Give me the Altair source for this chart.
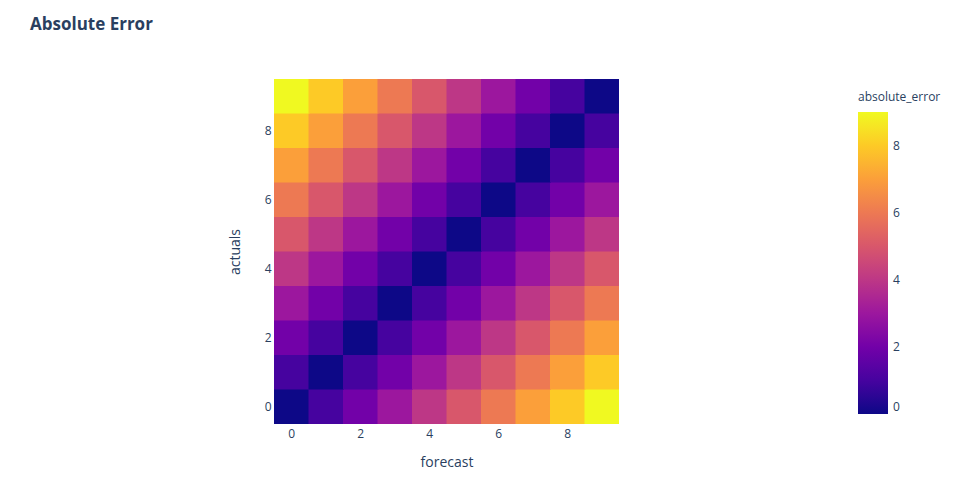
import altair as alt
import pandas as pd

forecast = [0, 1, 2, 3, 4, 5, 6, 7, 8, 9]
actuals = [0, 1, 2, 3, 4, 5, 6, 7, 8, 9]
# rows: actuals 0..9, columns: forecast 0..9
absolute_error = [
    [0, 1, 2, 3, 4, 5, 6, 7, 8, 9],
    [1, 0, 1, 2, 3, 4, 5, 6, 7, 8],
    [2, 1, 0, 1, 2, 3, 4, 5, 6, 7],
    [3, 2, 1, 0, 1, 2, 3, 4, 5, 6],
    [4, 3, 2, 1, 0, 1, 2, 3, 4, 5],
    [5, 4, 3, 2, 1, 0, 1, 2, 3, 4],
    [6, 5, 4, 3, 2, 1, 0, 1, 2, 3],
    [7, 6, 5, 4, 3, 2, 1, 0, 1, 2],
    [8, 7, 6, 5, 4, 3, 2, 1, 0, 1],
    [9, 8, 7, 6, 5, 4, 3, 2, 1, 0],
]
tick_values = [0, 2, 4, 6, 8]
axis_extent = [-0.5, 9.5]
plasma = ["#0d0887", "#46039f", "#7201a8", "#9c179e", "#bd3786",
          "#d8576b", "#ed7953", "#fb9f3a", "#fdca26", "#f0f921"]
color_domain = [0, 1, 2, 3, 4, 5, 6, 7, 8, 9]

rows = []
for i, a in enumerate(actuals):
    for j, f in enumerate(forecast):
        rows.append({"forecast": f, "actuals": a, "absolute_error": absolute_error[i][j]})
df = pd.DataFrame(rows)

FONT = "Open Sans"
TXT = "#2a3f5f"

chart = alt.Chart(df).transform_calculate(
    f0="datum.forecast - 0.5", f1="datum.forecast + 0.5",
    a0="datum.actuals - 0.5", a1="datum.actuals + 0.5",
).mark_rect(strokeWidth=0, clip=True, x2Offset=1, y2Offset=-1).encode(
    x=alt.X("f0:Q", title="forecast",
            scale=alt.Scale(domain=axis_extent, nice=False, zero=False),
            axis=alt.Axis(values=tick_values, labelAngle=0, ticks=False, domain=False,
                          grid=False, labelPadding=4, titlePadding=16, labelFontSize=12,
                          titleFontSize=14, titleFontWeight="normal", labelColor=TXT,
                          titleColor=TXT, labelFont=FONT, titleFont=FONT,
                          labelFlush=False)),
    x2="f1:Q",
    y=alt.Y("a0:Q", title="actuals",
            scale=alt.Scale(domain=axis_extent, nice=False, zero=False),
            axis=alt.Axis(values=tick_values, ticks=False, domain=False, grid=False,
                          labelPadding=3, titlePadding=22, labelFontSize=12,
                          titleFontSize=14, titleFontWeight="normal", labelColor=TXT,
                          titleColor=TXT, labelFont=FONT, titleFont=FONT,
                          labelFlush=False)),
    y2="a1:Q",
    color=alt.Color("absolute_error:Q",
                    scale=alt.Scale(domain=color_domain, range=plasma, interpolate="rgb"),
                    legend=alt.Legend(type="gradient", orient="none", legendX=584, legendY=13,
                                      gradientLength=302, gradientThickness=30,
                                      values=tick_values, labelFontSize=12,
                                      titleFontSize=12, titleFontWeight="normal",
                                      labelColor=TXT, titleColor=TXT, labelFont=FONT,
                                      titleFont=FONT, titlePadding=8, labelOffset=5,
                                      labelBaseline="middle",
                                      gradientStrokeWidth=0)),
).properties(
    width=345, height=345,
    title=alt.TitleParams("Absolute Error", anchor="start", frame="group", dx=-244,
                          offset=45, font=FONT, fontSize=17, fontWeight="bold",
                          color=TXT),
    autosize=alt.AutoSizeParams(type="none"),
    padding={"left": 266, "top": 71, "right": 338, "bottom": 58},
).configure_view(strokeWidth=0)

chart.save("out.html", embed_options={"renderer": "svg", "actions": False})
